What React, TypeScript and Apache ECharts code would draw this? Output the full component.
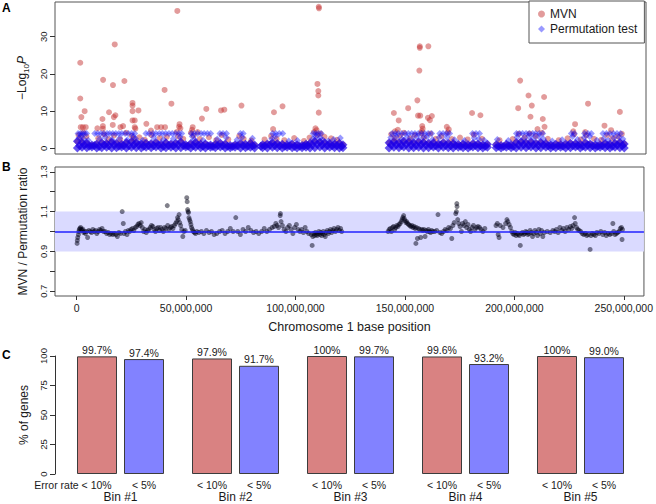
import React, { useEffect, useRef } from "react";
import * as echarts from "echarts";

// ---------- Panel A: -log10 P along chromosome 1 (positions in Mb) ----------
const mvnOutliers: number[][] = [
  [1.6, 23.0], [1.6, 13.4], [2.1, 8.4], [3.6, 10.0], [1.8, 5.7], [2.8, 5.7], [4.1, 5.7],
  [12.0, 18.4], [17.3, 27.9], [16.5, 17.0], [21.7, 18.1], [14.7, 9.7], [17.6, 8.9], [16.9, 8.4],
  [11.7, 7.9], [11.9, 6.0], [11.9, 5.3], [9.4, 5.4], [16.4, 6.3], [19.9, 5.7], [21.1, 6.0],
  [25.4, 12.2], [25.4, 11.5], [25.4, 10.0], [28.1, 10.2], [25.4, 7.5], [26.4, 7.5], [26.4, 5.7],
  [26.7, 5.3], [31.7, 6.6], [33.8, 4.8], [36.6, 5.7], [38.4, 5.7], [40.2, 5.7],
  [40.0, 15.7], [43.1, 12.0], [45.8, 36.9], [46.8, 6.5], [47.2, 5.4], [46.6, 5.8], [52.8, 5.7],
  [52.5, 5.0], [55.0, 4.4], [57.0, 8.0], [59.0, 10.6], [65.7, 10.2], [67.2, 10.4], [75.0, 11.5],
  [89.8, 9.7], [93.7, 11.3], [89.4, 5.2], [110.2, 38.0], [110.3, 37.6], [109.6, 17.3],
  [110.0, 15.4], [110.0, 14.2], [110.2, 9.6], [108.7, 5.4], [109.2, 4.9],
  [144.4, 9.5], [146.6, 7.5], [150.9, 10.8], [155.1, 12.9], [156.0, 20.9], [156.2, 27.4],
  [156.2, 27.0], [160.1, 27.4], [155.4, 8.8], [156.4, 8.8], [159.9, 8.2], [160.8, 7.6],
  [161.7, 8.7], [157.3, 6.0], [157.5, 5.3], [157.1, 4.6], [144.9, 4.6], [146.2, 5.0],
  [168.5, 5.8], [169.4, 5.1], [180.0, 9.5], [183.8, 8.9], [201.9, 18.2], [201.0, 10.8],
  [205.7, 14.2], [207.2, 11.5], [206.6, 8.5], [212.8, 13.8], [212.2, 7.9], [213.0, 5.8],
  [209.8, 5.2], [226.9, 6.5], [226.1, 4.6], [232.8, 12.0], [231.5, 4.4], [240.3, 6.1],
  [243.3, 4.9], [247.3, 9.8],
];

const mvnLow: number[][] = [
  [0.8, 3.6], [2.0, 2.9], [3.0, 4.3], [4.4, 3.2], [9.8, 2.7], [12.5, 3.8], [14.4, 2.5], [17.0, 3.5],
  [19.8, 2.4], [22.5, 4.2], [25.0, 3.4], [26.0, 2.6], [28.5, 3.0], [31.0, 2.3], [34.0, 3.6],
  [37.8, 2.8], [41.0, 3.1], [45.5, 4.4], [46.2, 3.2], [48.5, 2.6], [52.0, 4.2], [53.2, 3.4],
  [56.0, 2.5], [60.2, 3.0], [63.5, 2.2], [66.0, 3.6], [69.0, 2.4], [74.0, 3.3], [76.0, 2.6],
  [79.5, 2.1], [85.5, 2.4], [88.5, 3.3], [91.0, 2.6], [94.5, 2.2], [99.0, 2.8], [103.5, 2.0],
  [106.0, 2.9], [108.0, 4.4], [109.5, 3.6], [111.0, 4.0], [112.8, 3.1], [115.8, 2.7], [118.5, 2.3],
  [143.2, 3.8], [144.8, 2.8], [147.2, 3.4], [149.0, 4.2], [151.8, 2.7], [154.0, 3.6], [156.8, 4.1],
  [158.2, 3.0], [161.0, 4.0], [163.5, 2.6], [166.0, 3.3], [169.0, 4.3], [170.8, 2.5], [174.5, 2.9],
  [178.0, 2.4], [180.8, 3.7], [184.5, 2.6], [192.5, 2.2], [198.5, 2.5], [201.2, 3.9], [204.0, 3.0],
  [206.2, 4.0], [209.0, 3.3], [211.8, 4.2], [214.5, 2.6], [219.5, 2.2], [223.5, 2.7], [226.5, 3.8],
  [229.5, 2.4], [232.0, 3.5], [235.5, 2.6], [238.8, 2.3], [241.5, 3.6], [243.8, 2.7], [246.2, 3.2],
  [248.2, 3.9],
];

// permutation test floor: p = 1e-4 -> -log10 p = 4
const permCapValue = 4.0;
const permCapPos: number[] = [
  0.6, 1.6, 2.6, 3.6, 4.5, 8.2, 9.5, 11.0, 12.3, 13.8, 15.0, 16.4, 17.8, 19.2, 20.5, 22.0, 23.5,
  25.0, 26.4, 31.5, 33.0, 34.6, 36.0, 37.6, 39.0, 40.5, 42.0, 43.5, 45.0, 46.5, 47.8, 52.2, 53.5,
  55.0, 56.6, 58.0, 59.5, 61.0, 65.2, 66.6, 68.2, 74.5, 75.8, 89.2, 90.6, 92.2, 93.8, 107.6, 108.8,
  110.0, 111.3, 143.6, 145.0, 146.4, 148.0, 149.5, 151.0, 152.5, 154.0, 155.5, 157.0, 158.5, 160.0,
  161.6, 165.3, 166.8, 168.3, 169.8, 180.2, 181.8, 183.4, 200.2, 201.6, 203.0, 204.6, 206.0, 207.6,
  209.0, 210.6, 212.2, 225.2, 226.6, 231.2, 232.8, 234.3, 239.6, 241.2, 242.8, 244.4, 246.0, 247.6,
];

// [position, low value, high value]
const permBulk: number[][] = [
  [0.3, 0.1, 1.9], [2.4, 0.3, 1.6], [4.6, 0.2, 1.4], [6.9, 0.4, 0.9], [9.1, 0.1, 1.2], [11.4, 0.2, 1.5],
  [13.6, 0.3, 1.3], [15.9, 0.1, 1.7], [18.1, 0.2, 1.4], [20.4, 0.4, 1.1], [22.6, 0.1, 1.6], [24.9, 0.3, 1.8],
  [27.1, 0.2, 1.5], [29.4, 0.1, 1.2], [31.6, 0.3, 1.4], [33.9, 0.2, 1.3], [36.1, 0.4, 1.6], [38.4, 0.1, 1.1],
  [40.6, 0.2, 1.5], [42.9, 0.3, 1.2], [45.1, 0.1, 1.4], [47.4, 0.2, 1.7], [49.6, 0.4, 1.0], [51.9, 0.1, 1.3],
  [54.1, 0.3, 1.6], [56.4, 0.2, 1.1], [58.6, 0.1, 1.2], [60.9, 0.3, 0.9], [63.1, 0.2, 1.1], [65.4, 0.4, 1.4],
  [67.6, 0.1, 1.2], [69.9, 0.2, 0.8], [72.1, 0.3, 1.0], [74.6, 0.1, 1.3], [76.8, 0.2, 1.1], [79.1, 0.3, 1.4],
  [81.0, 0.1, 0.9],
  [84.6, 0.2, 1.0], [86.8, 0.1, 1.2], [89.1, 0.3, 1.5], [91.3, 0.2, 1.3], [93.6, 0.1, 1.1], [95.8, 0.3, 0.9],
  [98.1, 0.2, 1.2], [100.3, 0.1, 1.0], [102.6, 0.2, 0.8], [104.4, 0.3, 1.1], [106.2, 0.1, 1.4], [108.4, 0.2, 1.9],
  [110.7, 0.4, 1.7], [112.9, 0.1, 1.5], [115.2, 0.3, 1.3], [117.4, 0.2, 1.2], [119.6, 0.1, 1.4], [121.2, 0.2, 1.0],
  [142.2, 0.1, 1.5], [144.4, 0.3, 1.8], [146.7, 0.2, 1.6], [148.9, 0.4, 1.9], [151.2, 0.1, 1.7], [153.4, 0.2, 1.5],
  [155.7, 0.3, 1.8], [157.9, 0.1, 1.6], [160.2, 0.2, 1.4], [162.4, 0.4, 1.5], [164.7, 0.1, 1.2], [166.9, 0.3, 1.6],
  [169.2, 0.2, 1.4], [171.4, 0.1, 1.3], [173.7, 0.3, 1.1], [175.9, 0.2, 1.2], [178.2, 0.1, 1.0], [180.4, 0.4, 1.3],
  [182.7, 0.2, 1.2], [184.9, 0.1, 0.9], [187.0, 0.3, 1.1],
  [191.0, 0.2, 1.0], [193.2, 0.1, 0.8], [195.6, 0.3, 1.1], [197.8, 0.2, 0.9], [200.1, 0.1, 1.6], [202.3, 0.3, 1.8],
  [204.6, 0.2, 1.5], [206.8, 0.4, 1.7], [209.1, 0.1, 1.4], [211.3, 0.2, 1.6], [213.6, 0.3, 1.3], [215.8, 0.1, 0.9],
  [218.1, 0.2, 1.1], [220.3, 0.3, 1.0], [222.6, 0.1, 1.2], [224.8, 0.2, 1.4], [227.1, 0.4, 1.3], [229.3, 0.1, 1.1],
  [231.6, 0.3, 1.5], [233.8, 0.2, 1.2], [236.1, 0.1, 0.9], [238.3, 0.3, 1.0], [240.6, 0.2, 1.3], [242.8, 0.1, 1.1],
  [245.1, 0.3, 1.4], [247.3, 0.2, 1.6], [249.3, 0.1, 1.2],
];

// genes in between the rows above [position, value]
const permBulk2: number[][] = [
  [1.3, 0.7], [3.5, 0.9], [5.7, 0.6], [8.0, 0.8], [10.2, 0.5], [12.5, 0.9], [14.7, 0.7], [17.0, 1.0],
  [19.2, 0.6], [21.5, 0.8], [23.7, 0.7], [26.0, 0.9], [28.2, 1.0], [30.5, 0.6], [32.7, 0.8], [35.0, 0.7],
  [37.2, 0.9], [39.5, 0.6], [41.7, 0.8], [44.0, 0.7], [46.2, 1.0], [48.5, 0.8], [50.7, 0.6], [53.0, 0.7],
  [55.2, 0.9], [57.5, 0.6], [59.7, 0.7], [62.0, 0.5], [64.2, 0.8], [66.5, 0.7], [68.7, 0.6], [71.0, 0.5],
  [73.3, 0.7], [75.7, 0.8], [77.9, 0.6], [80.0, 0.7],
  [83.8, 0.6], [85.7, 0.7], [88.0, 0.9], [90.2, 0.8], [92.5, 0.7], [94.7, 0.6], [97.0, 0.7], [99.2, 0.5],
  [101.5, 0.6], [103.5, 0.7], [105.3, 0.8], [107.3, 1.0], [109.5, 1.1], [111.8, 0.9], [114.0, 0.8],
  [116.3, 0.7], [118.5, 0.8], [120.5, 0.6],
  [143.3, 0.9], [145.5, 1.0], [147.8, 0.8], [150.0, 1.1], [152.3, 0.9], [154.5, 0.8], [156.8, 1.0],
  [159.0, 0.9], [161.3, 0.8], [163.5, 0.7], [165.8, 0.9], [168.0, 0.8], [170.3, 0.7], [172.5, 0.8],
  [174.8, 0.6], [177.0, 0.7], [179.3, 0.6], [181.5, 0.8], [183.8, 0.7], [186.0, 0.6],
  [192.1, 0.6], [194.4, 0.5], [196.7, 0.7], [198.9, 0.6], [201.2, 0.9], [203.4, 1.0], [205.7, 0.8],
  [207.9, 0.9], [210.2, 0.8], [212.4, 0.9], [214.7, 0.7], [216.9, 0.6], [219.2, 0.7], [221.4, 0.6],
  [223.7, 0.8], [225.9, 0.7], [228.2, 0.8], [230.4, 0.6], [232.7, 0.9], [234.9, 0.7], [237.2, 0.6],
  [239.4, 0.7], [241.7, 0.8], [243.9, 0.6], [246.2, 0.9], [248.4, 0.8],
];

const permMid: number[][] = [
  [1.0, 2.8], [2.0, 3.3], [3.2, 2.5], [5.2, 2.2], [10.5, 2.6], [13.0, 3.0], [16.0, 2.4], [19.5, 2.7],
  [23.0, 2.3], [25.8, 3.1], [26.8, 2.6], [30.0, 2.2], [35.0, 2.9], [39.5, 2.4], [44.0, 2.6], [47.0, 3.0],
  [52.6, 3.2], [53.6, 2.4], [57.5, 2.2], [64.0, 2.5], [68.0, 2.9], [73.0, 2.3], [75.3, 3.0], [80.0, 2.7],
  [88.8, 2.6], [90.5, 3.2], [96.5, 2.0], [100.5, 2.1], [107.5, 2.6], [109.0, 3.2], [110.8, 2.8], [112.0, 2.3],
  [114.5, 2.0], [117.0, 2.4], [120.0, 2.8], [143.0, 2.9], [145.5, 3.2], [148.0, 2.5], [150.5, 3.0],
  [153.0, 2.6], [155.0, 3.2], [157.6, 2.8], [159.5, 3.1], [162.0, 2.4], [165.0, 2.9], [168.5, 3.0],
  [172.0, 2.3], [176.5, 2.1], [181.0, 2.8], [183.0, 2.5], [185.5, 2.2], [191.5, 2.4], [196.5, 2.1],
  [200.5, 3.0], [203.5, 2.6], [205.8, 3.2], [208.0, 2.8], [210.5, 3.1], [212.5, 2.5], [216.5, 2.0],
  [221.0, 2.3], [225.8, 3.2], [228.0, 2.4], [231.0, 2.9], [233.5, 3.2], [236.8, 2.2], [240.0, 2.6],
  [242.0, 2.1], [244.5, 2.8], [247.0, 3.0], [248.7, 2.5],
];

// ---------- Panel B: MVN / permutation ratio ----------
const ratioPoints: number[][] = [
  [0.2, 0.94], [0.3, 0.955], [0.5, 0.97], [0.8, 0.985], [1.0, 1.0], [1.2, 1.01], [1.5, 1.015], [1.8, 1.02],
  [2.1, 1.01], [2.5, 1.005], [2.8, 1.012], [3.2, 0.995], [3.6, 1.0], [4.0, 0.99], [4.5, 1.0], [5.0, 0.97],
  [5.6, 1.005], [6.2, 1.0], [6.8, 0.995], [7.4, 1.01], [8.0, 1.0], [8.6, 1.005], [9.2, 0.99], [9.8, 1.0],
  [10.4, 1.01], [11.0, 1.005], [11.6, 1.015], [12.3, 1.0], [13.0, 1.0], [13.7, 0.99], [14.4, 0.995],
  [15.1, 0.985], [15.8, 0.99], [16.5, 0.985], [17.2, 0.99], [17.9, 0.985], [18.6, 0.975], [19.3, 0.995],
  [20.0, 0.99], [20.8, 1.1], [21.3, 1.04], [21.6, 0.99], [22.3, 1.0], [23.0, 0.985], [23.6, 1.005],
  [24.2, 1.0], [24.8, 1.01], [25.5, 1.015], [26.1, 1.005], [26.8, 1.02],
  [27.4, 1.025], [28.0, 1.035], [28.5, 1.04], [29.0, 1.03], [29.5, 1.045], [30.0, 1.02], [30.6, 1.0],
  [31.2, 1.01], [31.8, 0.995], [32.4, 1.005], [33.0, 1.01], [33.6, 1.02], [34.2, 1.03], [34.8, 1.025],
  [35.4, 1.01], [36.0, 1.0], [36.6, 1.015], [37.2, 1.02], [37.8, 1.005], [38.4, 1.02], [39.0, 1.01],
  [39.6, 1.0], [40.2, 1.02], [40.8, 1.015], [41.4, 1.13], [41.6, 1.03], [42.2, 1.01], [42.8, 1.02],
  [43.4, 1.025], [44.0, 1.015], [44.6, 1.03],
  [45.2, 1.04], [45.7, 1.05], [46.1, 1.07], [46.4, 1.06], [46.8, 1.085], [47.1, 1.045], [47.5, 1.03],
  [48.0, 1.01], [48.5, 0.975], [49.0, 1.0], [49.6, 1.005],
  [50.3, 1.17], [50.5, 1.15], [50.7, 1.11], [50.9, 1.1], [51.1, 1.095], [51.3, 1.07], [51.6, 1.06],
  [51.9, 1.05], [52.2, 1.035], [52.5, 1.02], [52.9, 1.01], [53.3, 1.0], [53.8, 0.995], [54.3, 0.99], [54.9, 1.0],
  [55.8, 0.995], [57.0, 1.0], [58.1, 0.99], [59.3, 1.005], [60.5, 0.995], [61.6, 1.0], [62.8, 0.985],
  [64.0, 0.99], [65.3, 1.0], [66.5, 1.005], [67.8, 0.99], [69.0, 1.0], [70.2, 1.015], [71.5, 1.0],
  [72.7, 1.07], [73.6, 1.0], [74.8, 0.985], [76.0, 1.01], [77.2, 1.0], [78.4, 1.02], [79.6, 1.005],
  [80.8, 0.995], [82.0, 1.0], [83.2, 0.99], [84.5, 1.0], [85.7, 1.015], [86.9, 1.0], [88.1, 1.01], [89.3, 1.02],
  [90.2, 1.025], [91.0, 1.04], [91.6, 1.03], [92.2, 1.02], [93.0, 1.08], [93.1, 1.09], [93.4, 1.05],
  [94.0, 1.03], [94.8, 1.01], [95.6, 1.0], [96.4, 1.02], [97.2, 1.03], [98.0, 1.01], [98.8, 0.99],
  [99.6, 1.02], [100.4, 1.035], [101.2, 1.01], [102.0, 1.0], [102.8, 1.01], [103.6, 0.995], [104.4, 1.02],
  [105.2, 1.0], [106.0, 0.99],
  [107.2, 0.985], [107.6, 0.93], [107.9, 0.975], [108.3, 0.99], [108.7, 0.98], [109.1, 0.995], [109.5, 0.985],
  [109.9, 0.98], [110.3, 0.99], [110.7, 1.0], [111.1, 0.985], [111.5, 0.995], [111.9, 0.98], [112.3, 0.99],
  [112.7, 1.0], [113.1, 0.985], [113.6, 0.975], [114.0, 0.995], [114.5, 1.005], [115.0, 0.99], [115.5, 1.0],
  [116.0, 1.01], [116.5, 0.995], [117.0, 1.005], [117.6, 1.015], [118.2, 1.0], [118.8, 1.01], [119.4, 1.02],
  [120.0, 1.005], [120.6, 1.015], [121.1, 1.0],
  [142.3, 1.0], [142.8, 1.01], [143.3, 1.015], [143.8, 1.0], [144.3, 1.02], [144.8, 1.025], [145.3, 1.01],
  [145.8, 1.02], [146.3, 1.03], [146.8, 1.025], [147.3, 1.035], [147.8, 1.04], [148.3, 1.05], [148.7, 1.06],
  [149.0, 1.07], [149.4, 1.08], [149.7, 1.065], [150.0, 1.055], [150.4, 1.045], [150.8, 1.05], [151.2, 1.04],
  [151.7, 1.035],
  [152.2, 1.03], [152.7, 1.025], [153.2, 1.03], [153.7, 1.02], [154.2, 1.025], [154.7, 1.015], [155.0, 0.94],
  [155.2, 1.02], [155.7, 0.965], [156.2, 1.015], [156.7, 1.01], [157.2, 0.97], [157.7, 1.01], [158.2, 1.005],
  [158.7, 1.01], [159.2, 0.975], [159.7, 1.005], [160.2, 1.0], [160.7, 1.01], [161.2, 1.0], [161.7, 0.995],
  [162.2, 1.005], [162.7, 1.0],
  [163.6, 1.0], [164.5, 1.005], [165.1, 1.085], [166.0, 0.995], [166.8, 0.99], [167.6, 1.0], [168.4, 1.01],
  [169.2, 1.005], [170.0, 1.02], [170.8, 1.015], [171.4, 0.965], [171.9, 1.03], [172.5, 1.045], [173.2, 1.09],
  [173.5, 1.1], [173.7, 1.14], [173.8, 1.125], [174.1, 1.06], [174.6, 1.04], [175.2, 1.025], [175.8, 1.0],
  [176.4, 1.04], [177.0, 1.03], [177.6, 1.05], [178.2, 1.02], [178.8, 1.035], [179.4, 1.01], [180.0, 1.0],
  [180.6, 1.02], [181.3, 1.03], [182.0, 1.01], [182.7, 1.02], [183.4, 1.025], [184.1, 1.02], [184.8, 1.01],
  [185.6, 1.0], [186.5, 1.015],
  [191.6, 1.03], [192.2, 1.04], [192.6, 0.985], [193.0, 0.97], [193.5, 1.03], [194.8, 1.02], [196.0, 1.04],
  [196.6, 1.06], [197.0, 1.05], [197.6, 1.035], [198.2, 1.02],
  [198.8, 1.0], [199.3, 0.99], [199.8, 0.985], [200.3, 0.995], [200.8, 0.98], [201.3, 0.99], [201.8, 0.985],
  [202.3, 0.98], [202.7, 0.93], [203.2, 0.99], [203.7, 0.995], [204.2, 0.985], [204.7, 0.99], [205.2, 1.0],
  [205.7, 0.995], [206.2, 0.985], [206.7, 0.99], [207.2, 1.005], [207.7, 0.995], [208.3, 0.975], [208.8, 0.99],
  [209.4, 1.005], [210.0, 0.995], [210.6, 0.98], [211.2, 1.01], [211.8, 0.99], [212.4, 1.005], [213.0, 0.975],
  [213.6, 0.995],
  [215.0, 1.0], [216.4, 0.995], [217.6, 1.005], [218.4, 1.0], [219.2, 1.01], [220.0, 0.995], [220.8, 1.02],
  [221.6, 1.005], [222.4, 1.015], [223.2, 1.0], [224.0, 1.02], [224.8, 1.01], [225.6, 1.025], [226.2, 1.015],
  [226.8, 1.03], [227.5, 1.07], [227.8, 1.04], [228.4, 1.02], [229.0, 1.01], [229.6, 1.005],
  [230.3, 1.0], [231.0, 0.99], [231.7, 0.985], [232.4, 0.99], [233.1, 0.98], [233.8, 0.985], [234.6, 0.91],
  [235.0, 0.98], [235.6, 0.99], [236.3, 0.985], [237.0, 0.98], [237.7, 0.995],
  [238.6, 0.99], [239.5, 1.0], [240.4, 0.985], [241.2, 0.995], [242.0, 0.98], [242.8, 0.99], [243.6, 0.985],
  [244.4, 0.99], [245.0, 1.04], [245.4, 1.0], [246.0, 0.985], [246.6, 0.99], [247.2, 0.995], [247.8, 1.0],
  [248.4, 1.015], [248.9, 1.02], [249.2, 0.96], [249.4, 1.01],
];
const bandLow = 0.9;
const bandHigh = 1.1;
const ratioRef = 1.0;

// ---------- Panel C: % of genes ----------
const bins = ["Bin #1", "Bin #2", "Bin #3", "Bin #4", "Bin #5"];
const rate10 = [99.7, 97.9, 100, 99.6, 100];
const rate5 = [97.4, 91.7, 99.7, 93.2, 99.0];
const rate10Text = ["99.7%", "97.9%", "100%", "99.6%", "100%"];
const rate5Text = ["97.4%", "91.7%", "99.7%", "93.2%", "99.0%"];
const under10 = ["Error rate < 10%", "< 10%", "< 10%", "< 10%", "< 10%"];
const under5 = ["< 5%", "< 5%", "< 5%", "< 5%", "< 5%"];

// ---------- Tick labels ----------
const ticksA = [0, 10, 20, 30];
const ticksB = [0.7, 0.8, 0.9, 1.0, 1.1, 1.2, 1.3];
const labelsB = [0.7, 0.9, 1.1, 1.3];
const ticksPos = [0, 50, 100, 150, 200, 250];
const ticksC = [0, 25, 50, 75, 100];

const FONT = "'Liberation Sans', Arial, Helvetica, sans-serif";
const commas = (v: number) => String(Math.round(v * 1e6)).replace(/\B(?=(\d{3})+(?!\d))/g, ",");

export default function App() {
  const ref = useRef<HTMLDivElement>(null);
  useEffect(() => {
    if (!ref.current) return;
    const chart = echarts.init(ref.current, undefined, { renderer: "svg" });

    const permSparse: number[][] = [];
    const permDense: number[][] = [];
    const mvnBulk: number[][] = [];
    permBulk.forEach((r) => {
      permDense.push([r[0], r[1]]);
      permDense.push([r[0], r[2]]);
      mvnBulk.push([r[0], r[2]]); // ratio ~ 1: MVN sits under the permutation points
    });
    permBulk2.forEach((p) => permDense.push(p));
    permMid.forEach((p) => permSparse.push(p));
    permCapPos.forEach((x) => permSparse.push([x, permCapValue]));

    const axisCol = "#333";
    const txt = "#1a1a1a";

    const option: any = {
      animation: false,
      textStyle: { fontFamily: FONT },
      legend: {
        left: 529,
        top: 1,
        orient: "vertical",
        padding: [7, 7, 8, 9],
        itemGap: 3,
        itemWidth: 7,
        itemHeight: 7,
        borderColor: "#555",
        borderWidth: 1,
        borderRadius: 0,
        backgroundColor: "#fff",
        textStyle: { fontSize: 12, color: txt, fontFamily: FONT },
        data: [
          { name: "MVN", icon: "circle" },
          { name: "Permutation test", icon: "diamond" },
        ],
      },
      graphic: [
        { type: "text", left: 2, top: 2, style: { text: "A", font: `bold 12px ${FONT}`, fill: "#000" } },
        { type: "text", left: 2, top: 161, style: { text: "B", font: `bold 12px ${FONT}`, fill: "#000" } },
        { type: "text", left: 2, top: 349, style: { text: "C", font: `bold 12px ${FONT}`, fill: "#000" } },
      ],
      grid: [
        { left: 55, top: 2, width: 591, height: 152, show: true, borderColor: "#555", borderWidth: 1 },
        { left: 55, top: 167, width: 591, height: 129, show: true, borderColor: "#555", borderWidth: 1 },
        { left: 63, top: 356, width: 575, height: 118 },
      ],
      xAxis: [
        { gridIndex: 0, type: "value", min: -9.9, max: 259.2, show: false },
        {
          gridIndex: 1,
          type: "value",
          min: -9.9,
          max: 259.2,
          axisLine: { show: false, onZero: false },
          splitLine: { show: false },
          axisTick: { show: true, customValues: ticksPos, length: 4, lineStyle: { color: axisCol } },
          axisLabel: { customValues: ticksPos, formatter: commas, fontSize: 10.5, color: txt, margin: 6 },
          name: "Chromosome 1 base position",
          nameLocation: "middle",
          nameGap: 24,
          nameTextStyle: { fontSize: 12.5, color: txt },
        },
        {
          gridIndex: 2,
          type: "category",
          data: bins,
          axisLine: { show: false },
          axisTick: { show: false },
          axisLabel: { fontSize: 12, color: txt, margin: 17 },
        },
      ],
      yAxis: [
        {
          gridIndex: 0,
          type: "value",
          min: -1.5,
          max: 39.3,
          axisLine: { show: false, onZero: false },
          splitLine: { show: false },
          axisTick: { show: true, customValues: ticksA, length: 5, lineStyle: { color: axisCol } },
          axisLabel: { customValues: ticksA, rotate: 90, margin: 7, fontSize: 9.5, color: txt },
          name: "{a|−Log}{b|10}{c|P}",
          nameLocation: "middle",
          nameRotate: 90,
          nameGap: 24,
          nameTextStyle: {
            color: txt,
            rich: {
              a: { fontSize: 12, lineHeight: 16, color: txt },
              b: { fontSize: 8, lineHeight: 10, verticalAlign: "bottom", color: txt },
              c: { fontSize: 12, lineHeight: 16, fontStyle: "italic", color: txt },
            },
          },
        },
        {
          gridIndex: 1,
          type: "value",
          min: 0.676,
          max: 1.324,
          axisLine: { show: false, onZero: false },
          splitLine: { show: false },
          axisTick: { show: true, customValues: ticksB, length: 5, lineStyle: { color: axisCol } },
          axisLabel: {
            customValues: labelsB,
            rotate: 90,
            margin: 7,
            fontSize: 9.5,
            color: txt,
            formatter: (v: number) => v.toFixed(1),
          },
          name: "MVN / Permutation ratio",
          nameLocation: "middle",
          nameRotate: 90,
          nameGap: 26,
          nameTextStyle: { fontSize: 12, color: txt },
        },
        {
          gridIndex: 2,
          type: "value",
          min: 0,
          max: 100,
          offset: 8,
          splitLine: { show: false },
          axisLine: { show: true, onZero: false, lineStyle: { color: axisCol } },
          axisTick: { show: true, customValues: ticksC, length: 5, lineStyle: { color: axisCol } },
          axisLabel: { customValues: ticksC, rotate: 90, margin: 7, fontSize: 9.5, color: txt },
          name: "% of genes",
          nameLocation: "middle",
          nameRotate: 90,
          nameGap: 21,
          nameTextStyle: { fontSize: 12, color: txt },
        },
      ],
      series: [
        {
          name: "MVN",
          type: "scatter",
          xAxisIndex: 0,
          yAxisIndex: 0,
          symbol: "circle",
          symbolSize: 6,
          itemStyle: { color: "rgba(195,45,45,0.6)" },
          data: [...mvnBulk, ...mvnLow, ...mvnOutliers],
          z: 2,
        },
        {
          name: "Permutation test",
          type: "scatter",
          xAxisIndex: 0,
          yAxisIndex: 0,
          symbol: "diamond",
          symbolSize: 7,
          itemStyle: { color: "rgba(0,0,255,0.5)" },
          data: permSparse,
          z: 3,
        },
        {
          name: "Permutation test",
          type: "scatter",
          xAxisIndex: 0,
          yAxisIndex: 0,
          symbol: "diamond",
          symbolSize: 9,
          itemStyle: { color: "rgba(28,0,232,0.85)" },
          data: permDense,
          z: 3,
        },
        {
          name: "ratio",
          type: "scatter",
          xAxisIndex: 1,
          yAxisIndex: 1,
          symbol: "circle",
          symbolSize: 5,
          itemStyle: { color: "rgba(0,0,20,0.62)" },
          data: ratioPoints,
          markArea: {
            silent: true,
            itemStyle: { color: "#dadaff" },
            data: [[{ yAxis: bandLow }, { yAxis: bandHigh }]],
          },
          markLine: {
            silent: true,
            symbol: ["none", "none"],
            label: { show: false },
            lineStyle: { color: "#2222ff", width: 1.5, type: "solid" },
            data: [{ yAxis: ratioRef }],
          },
        },
        {
          name: "base10",
          type: "bar",
          xAxisIndex: 2,
          yAxisIndex: 2,
          stack: "s10",
          barWidth: 40,
          barGap: "17.5%",
          itemStyle: { color: "transparent" },
          label: {
            show: true,
            position: "bottom",
            distance: 5,
            fontSize: 10.5,
            color: txt,
            formatter: (p: any) => under10[p.dataIndex],
          },
          data: rate10.map((_, i) => (i === 0 ? { value: 0, label: { offset: [-24, 0] } } : 0)),
        },
        {
          name: "rate10",
          type: "bar",
          xAxisIndex: 2,
          yAxisIndex: 2,
          stack: "s10",
          barWidth: 40,
          barGap: "17.5%",
          itemStyle: { color: "#d98282", borderColor: "#3c3c3c", borderWidth: 1 },
          label: {
            show: true,
            position: "top",
            distance: 1,
            fontSize: 10.5,
            color: txt,
            formatter: (p: any) => rate10Text[p.dataIndex],
          },
          data: rate10,
        },
        {
          name: "base5",
          type: "bar",
          xAxisIndex: 2,
          yAxisIndex: 2,
          stack: "s5",
          barWidth: 40,
          barGap: "17.5%",
          itemStyle: { color: "transparent" },
          label: {
            show: true,
            position: "bottom",
            distance: 5,
            fontSize: 10.5,
            color: txt,
            formatter: (p: any) => under5[p.dataIndex],
          },
          data: rate5.map(() => 0),
        },
        {
          name: "rate5",
          type: "bar",
          xAxisIndex: 2,
          yAxisIndex: 2,
          stack: "s5",
          barWidth: 40,
          barGap: "17.5%",
          itemStyle: { color: "#8282ff", borderColor: "#3c3c3c", borderWidth: 1 },
          label: {
            show: true,
            position: "top",
            distance: 1,
            fontSize: 10.5,
            color: txt,
            formatter: (p: any) => rate5Text[p.dataIndex],
          },
          data: rate5,
        },
      ],
    };
    chart.setOption(option);
    return () => chart.dispose();
  }, []);
  return <div ref={ref} style={{ position: "absolute", left: 0, top: 0, width: 656, height: 504 }} />;
}
